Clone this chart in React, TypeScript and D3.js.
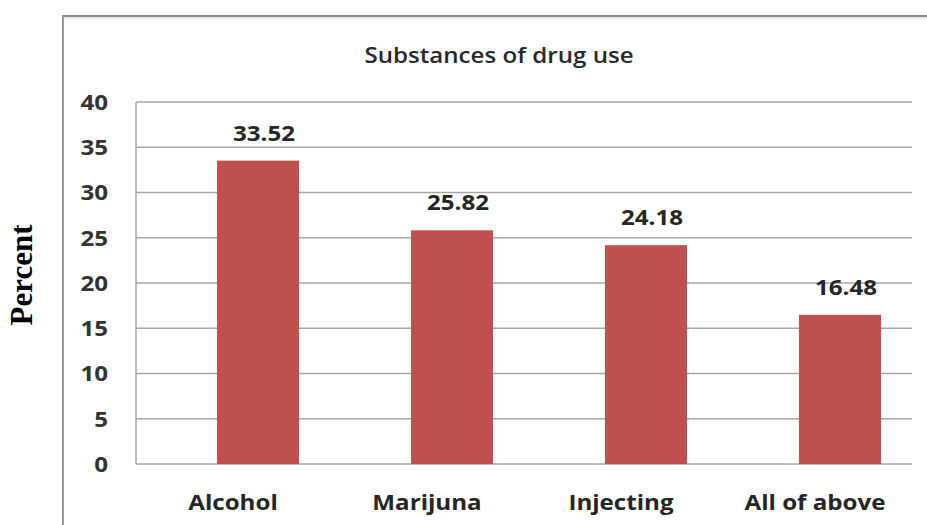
import React from "react";
import * as d3 from "d3";

// Substances of drug use, percent of respondents
const categories = ["Alcohol", "Marijuna", "Injecting", "All of above"];
const percents = [33.52, 25.82, 24.18, 16.48];
const yTicks = [0, 5, 10, 15, 20, 25, 30, 35, 40];
const chartTitle = "Substances of drug use";
const yAxisTitle = "Percent";

const W = 927;
const H = 525;
const plot = { left: 136, right: 912, top: 102, bottom: 464 };
const barShift = 25; // bars sit slightly right of the category label centres
const labelFont = "'Open Sans', 'Liberation Sans', sans-serif";
const stretch = 1.15;

export default function App() {
  const x = d3
    .scaleBand<string>()
    .domain(categories)
    .range([plot.left, plot.right])
    .paddingInner(0.577)
    .paddingOuter(0.2885);
  const y = d3.scaleLinear().domain([0, 40]).range([plot.bottom, plot.top]);
  const center = (c: string) => (x(c) as number) + x.bandwidth() / 2;

  return (
    <svg
      width={W}
      height={H}
      viewBox={`0 0 ${W} ${H}`}
      style={{ position: "absolute", left: 0, top: 0, background: "#fff" }}
    >
      {/* outer frame */}
      <line x1={62} x2={W} y1={16} y2={16} stroke="#8a8a8a" strokeWidth={2} />
      <line x1={62} x2={W} y1={18} y2={18} stroke="#e0e0e0" strokeWidth={1.5} />
      <line x1={63} x2={63} y1={16} y2={H} stroke="#9a9a9a" strokeWidth={2} />

      {/* chart title */}
      <g transform={`translate(499,63) scale(${stretch},1)`}>
        <text
          textAnchor="middle"
          fontFamily={labelFont}
          fontWeight={600}
          fontSize={21}
          fill="#2a2a2a"
        >
          {chartTitle}
        </text>
      </g>

      {/* gridlines */}
      {yTicks.map((t) => (
        <line
          key={`g${t}`}
          x1={plot.left}
          x2={plot.right}
          y1={y(t)}
          y2={y(t)}
          stroke="#a6a6a6"
          strokeWidth={1.5}
        />
      ))}
      <line
        x1={plot.left}
        x2={plot.left}
        y1={plot.top}
        y2={plot.bottom}
        stroke="#a6a6a6"
        strokeWidth={1.5}
      />

      {/* y tick labels */}
      {yTicks.map((t) => (
        <g key={`t${t}`} transform={`translate(108,${y(t)}) scale(${stretch},1)`}>
          <text
            textAnchor="end"
            dominantBaseline="central"
            fontFamily={labelFont}
            fontWeight={700}
            fontSize={21}
            fill="#333"
          >
            {t}
          </text>
        </g>
      ))}

      {/* bars */}
      {categories.map((c, i) => (
        <rect
          key={`b${c}`}
          x={(x(c) as number) + barShift}
          y={y(percents[i])}
          width={x.bandwidth()}
          height={y(0) - y(percents[i])}
          fill="#C0504D"
        />
      ))}

      {/* value labels */}
      {categories.map((c, i) => (
        <g
          key={`v${c}`}
          transform={`translate(${center(c) + barShift + 6},${y(percents[i]) - 20}) scale(${stretch},1)`}
        >
          <text
            textAnchor="middle"
            fontFamily={labelFont}
            fontWeight={700}
            fontSize={21}
            fill="#262626"
          >
            {percents[i].toFixed(2)}
          </text>
        </g>
      ))}

      {/* category labels */}
      {categories.map((c) => (
        <g key={`c${c}`} transform={`translate(${center(c)},510) scale(${stretch},1)`}>
          <text
            textAnchor="middle"
            fontFamily={labelFont}
            fontWeight={700}
            fontSize={21}
            fill="#262626"
          >
            {c}
          </text>
        </g>
      ))}

      {/* y axis title */}
      <text
        transform="translate(32,275) rotate(-90)"
        textAnchor="middle"
        fontFamily="'Liberation Serif', 'Times New Roman', serif"
        fontWeight={700}
        fontSize={31}
        fill="#000"
      >
        {yAxisTitle}
      </text>
    </svg>
  );
}
